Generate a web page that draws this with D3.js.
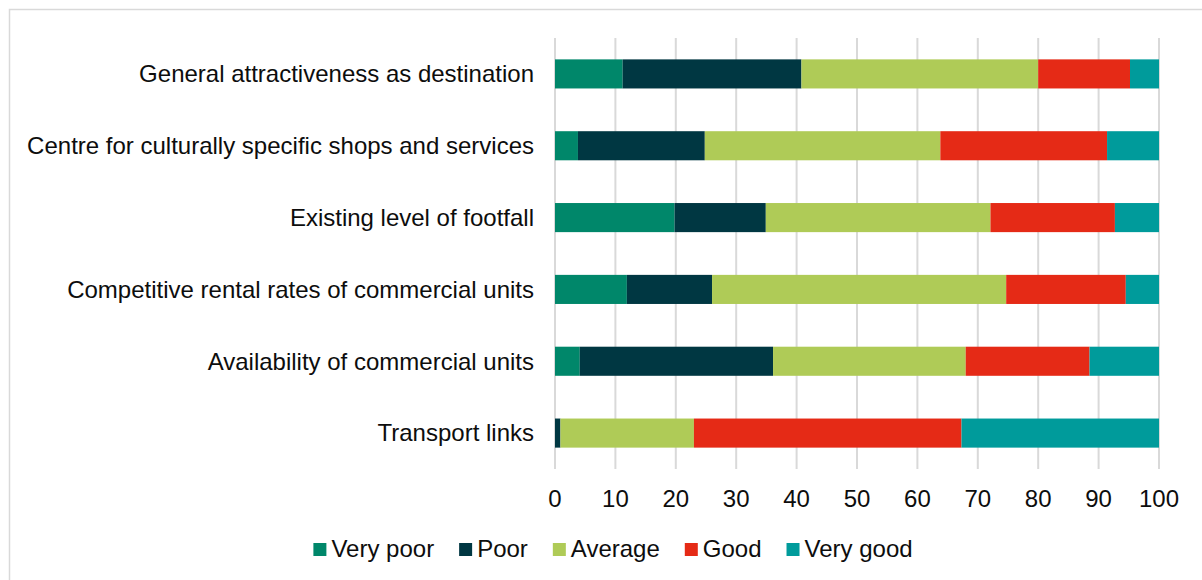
<!DOCTYPE html>
<html>
<head>
<meta charset="utf-8">
<script src="https://cdn.jsdelivr.net/npm/d3@7"></script>
<style>
  body { margin: 0; background: #fff; }
  svg { display: block; font-family: "Liberation Sans", Arial, sans-serif; }
  .grid line { stroke: #d9d9d9; stroke-width: 2; }
  .tick-label, .cat-label, .legend text { fill: #0d0d0d; font-size: 24px; }
</style>
</head>
<body>
<script>
var categories = [
  "General attractiveness as destination",
  "Centre for culturally specific shops and services",
  "Existing level of footfall",
  "Competitive rental rates of commercial units",
  "Availability of commercial units",
  "Transport links"];

var seriesNames = ["Very poor", "Poor", "Average", "Good", "Very good"];
var veryPoor = [11.2, 3.8, 19.8, 11.9, 4.1, 0];
var poor = [29.6, 21.0, 15.1, 14.1, 32.0, 0.9];
var average = [39.2, 39.0, 37.2, 48.7, 31.9, 22.1];
var good = [15.2, 27.6, 20.6, 19.8, 20.5, 44.3];
var veryGood = [4.8, 8.6, 7.3, 5.5, 11.5, 32.7];
var xTicks = [0, 10, 20, 30, 40, 50, 60, 70, 80, 90, 100];

var colors = ["#00876a", "#003742", "#afcb57", "#e52a16", "#009b9b"];

var W = 1202, H = 580;
var plot = { left: 555, right: 1159, top: 38, bottom: 469 };

// one row per category, keyed by series name
var rows = categories.map(function (c, i) {
  return {
    cat: c,
    "Very poor": veryPoor[i],
    "Poor": poor[i],
    "Average": average[i],
    "Good": good[i],
    "Very good": veryGood[i] };
});

var x = d3.scaleLinear().domain([0, 100]).range([plot.left, plot.right]);
var y = d3.scaleBand().domain(categories).
range([plot.top, plot.bottom]).
paddingInner(0.595).
paddingOuter(0.2975);
var color = d3.scaleOrdinal().domain(seriesNames).range(colors);

var svg = d3.select("body").append("svg").
attr("width", W).
attr("height", H);

// outer chart border (runs off the right and bottom edges)
svg.append("rect").
attr("x", 9.5).
attr("y", 9.5).
attr("width", W + 10).
attr("height", H + 10).
attr("fill", "none").
attr("stroke", "#d9d9d9").
attr("stroke-width", 1.5);

svg.append("g").
attr("class", "grid").
selectAll("line").
data(xTicks).
enter().append("line").
attr("x1", function (d) {return x(d);}).
attr("x2", function (d) {return x(d);}).
attr("y1", plot.top).
attr("y2", plot.bottom);

var stacked = d3.stack().keys(seriesNames)(rows);

svg.append("g").
selectAll("g").
data(stacked).
enter().append("g").
attr("fill", function (d) {return color(d.key);}).
selectAll("rect").
data(function (d) {return d;}).
enter().append("rect").
attr("x", function (d) {return x(d[0]);}).
attr("y", function (d) {return y(d.data.cat);}).
attr("width", function (d) {return x(d[1]) - x(d[0]);}).
attr("height", y.bandwidth());

// x tick labels
svg.append("g").
selectAll("text").
data(xTicks).
enter().append("text").
attr("class", "tick-label").
attr("x", function (d) {return x(d);}).
attr("y", 507).
attr("text-anchor", "middle").
text(function (d) {return d;});

// category labels
svg.append("g").
selectAll("text").
data(categories).
enter().append("text").
attr("class", "cat-label").
attr("x", 534).
attr("y", function (d) {return y(d) + y.bandwidth() / 2;}).
attr("dy", "0.35em").
attr("text-anchor", "end").
text(function (d) {return d;});

// legend, laid out from the measured text widths then centred
var legend = svg.append("g").attr("class", "legend");
var items = legend.selectAll("g").
data(seriesNames).
enter().append("g");

items.append("rect").
attr("width", 13).
attr("height", 13).
attr("y", 543).
attr("fill", function (d) {return color(d);});

items.append("text").
attr("x", 18).
attr("y", 557).
text(function (d) {return d;});

var offset = 0;
items.each(function () {
  var g = d3.select(this);
  g.attr("transform", "translate(" + offset + ",0)");
  offset += 18 + g.select("text").node().getComputedTextLength() + 25;
});
offset -= 25;
legend.attr("transform", "translate(" + (613 - offset / 2) + ",0)");
</script>
</body>
</html>
